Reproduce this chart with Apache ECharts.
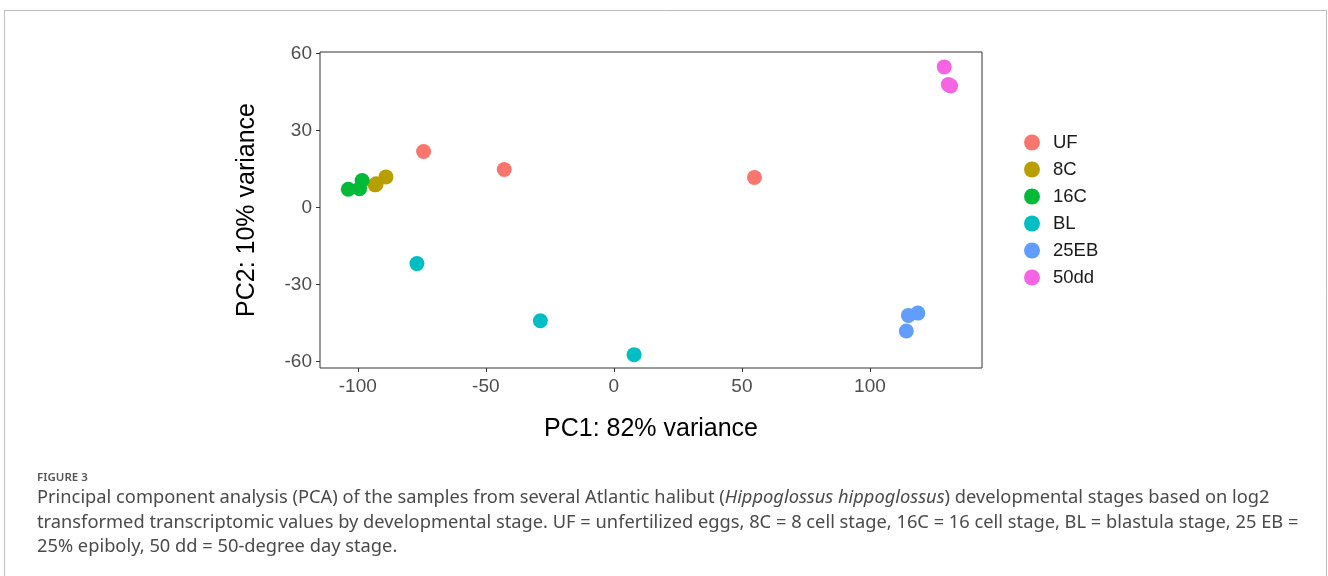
<!DOCTYPE html>
<html>
<head>
<meta charset="utf-8">
<script src="https://cdn.jsdelivr.net/npm/echarts@6/dist/echarts.min.js"></script>
<style>
html,body{margin:0;padding:0;background:#fff;}
#c{width:1328px;height:576px;}
</style>
</head>
<body>
<div id="c"></div>
<script>
// ---- data ----
const groups = ['UF', '8C', '16C', 'BL', '25EB', '50dd'];
const colors = ['#F8766D', '#B79F00', '#00BA38', '#00BFC4', '#619CFF', '#F564E3'];
const UF   = [[-74.3, 21.8], [-42.8, 14.8], [54.9, 11.7]];
const C8   = [[-93.2, 8.8], [-89.0, 11.9], [-92.8, 9.2]];
const C16  = [[-103.7, 7.1], [-99.3, 7.3], [-98.3, 10.5]];
const BL   = [[-76.9, -21.9], [-28.7, -44.2], [7.9, -57.4]];
const EB25 = [[114.2, -48.2], [115.0, -42.1], [118.7, -41.2]];
const DD50 = [[129.0, 54.8], [131.5, 47.4], [130.6, 47.9]];
const seriesData = [UF, C8, C16, BL, EB25, DD50];
const xTicks = [-100, -50, 0, 50, 100];
const yTicks = [-60, -30, 0, 30, 60];
const xTitle = 'PC1: 82% variance';
const yTitle = 'PC2: 10% variance';
const figLabel = 'FIGURE 3';
const captionLines = [
  'Principal component analysis (PCA) of the samples from several Atlantic halibut ({i|Hippoglossus hippoglossus}) developmental stages based on log2',
  'transformed transcriptomic values by developmental stage. UF = unfertilized eggs, 8C = 8 cell stage, 16C = 16 cell stage, BL = blastula stage, 25 EB =',
  '25% epiboly, 50 dd = 50-degree day stage.'
];

const chart = echarts.init(document.getElementById('c'), null, {renderer: 'canvas'});
const font = 'Liberation Sans, Arial, Helvetica, sans-serif';
const capFont = 'Noto Sans, Open Sans, sans-serif';
const capSize = 18.3;

const option = {
  animation: false,
  backgroundColor: '#fff',
  grid: {left: 320, right: 346, top: 52, bottom: 208, show: true, borderColor: '#333', borderWidth: 1, backgroundColor: '#fff'},
  xAxis: {
    type: 'value', min: -114.75, max: 143.75,
    axisLine: {show: false, onZero: false},
    splitLine: {show: false},
    axisTick: {show: true, length: 4, lineStyle: {color: '#333'}, customValues: xTicks},
    axisLabel: {color: '#4d4d4d', fontSize: 19, fontFamily: font, margin: 9, customValues: xTicks},
    name: xTitle, nameLocation: 'middle', nameGap: 49,
    nameTextStyle: {fontSize: 25, color: '#000', fontFamily: font}
  },
  yAxis: {
    type: 'value', min: -62.6, max: 60.6,
    axisLine: {show: false, onZero: false},
    splitLine: {show: false},
    axisTick: {show: true, length: 4, lineStyle: {color: '#333'}, customValues: yTicks},
    axisLabel: {color: '#4d4d4d', fontSize: 19, fontFamily: font, margin: 8, customValues: yTicks},
    name: yTitle, nameLocation: 'middle', nameGap: 60, nameRotate: 90,
    nameTextStyle: {fontSize: 25, color: '#000', fontFamily: font}
  },
  legend: {
    orient: 'vertical', left: 1019, top: 128,
    icon: 'circle', itemWidth: 16, itemHeight: 16, itemGap: 8,
    textStyle: {fontSize: 18.5, color: '#1a1a1a', fontFamily: font, padding: [0, 0, 0, 8]},
    data: groups
  },
  series: groups.map((g, i) => ({
    name: g, type: 'scatter', data: seriesData[i], symbolSize: 15,
    itemStyle: {color: colors[i], opacity: 1}
  })),
  graphic: [
    {type: 'rect', shape: {x: 4.5, y: 10.5, width: 1322, height: 620},
     style: {fill: 'none', stroke: '#bdbdbd', lineWidth: 1}, silent: true, z: -1},
    {type: 'text', x: 37, y: 478,
     style: {text: figLabel, fontSize: 11.5, fontWeight: 600, fill: '#555', fontFamily: capFont, verticalAlign: 'middle'}},
    ...captionLines.map((t, k) => ({
      type: 'text', x: 37, y: 498 + k * 24.5,
      style: {text: t, fontSize: capSize, fill: '#4a4a4a', fontFamily: capFont, verticalAlign: 'middle',
        rich: {i: {fontStyle: 'italic', fontSize: capSize, fill: '#4a4a4a', fontFamily: capFont}}}
    }))
  ]
};
chart.setOption(option);
</script>
</body>
</html>
